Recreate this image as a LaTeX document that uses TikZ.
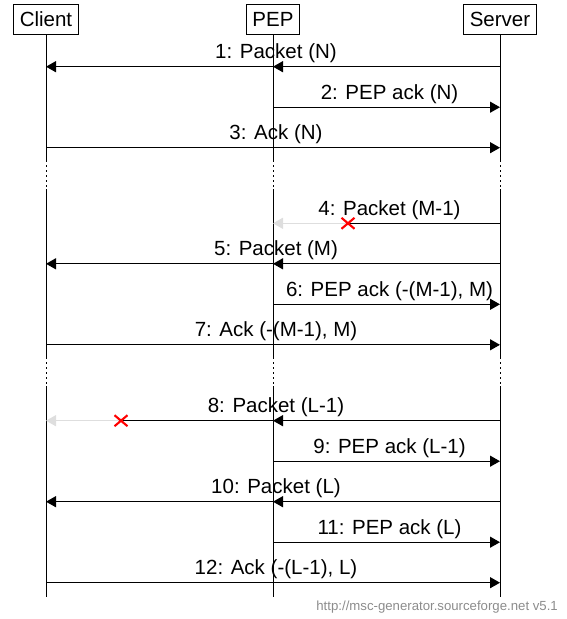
\documentclass[tikz,border=0pt]{standalone}
\usepackage{fontspec}
\setmainfont{Liberation Sans}
\usetikzlibrary{arrows.meta,calc}
\begin{document}
\begin{tikzpicture}[x=1pt,y=-1pt,
  entity/.style={draw, line width=0.8pt, minimum height=30pt, inner xsep=6pt, inner ysep=0pt, font=\fontsize{20.5}{25}\selectfont},
  life/.style={line width=0.9pt},
  gapline/.style={line width=0.9pt, dash pattern=on 2pt off 3pt},
  msg/.style={line width=1.3pt, -{Triangle[length=10pt,width=11pt]}},
  plainmsg/.style={line width=1.3pt},
  lostmsg/.style={line width=1.3pt, draw=black!13, -{Triangle[length=10pt,width=11pt,fill=black!13]}},
  lbl/.style={anchor=base, yshift=8pt, xshift=3pt, inner sep=0pt, font=\fontsize{20.5}{25}\selectfont},
  lossmark/.style={draw=red, line width=2.1pt},
  footer/.style={anchor=east, text=black!45, inner sep=0pt, font=\fontsize{13.2}{15}\selectfont}
]
\useasboundingbox (0,0) rectangle (566,619);

% entity heads
\node[entity] (cl)  at (46,19)  {Client};
\node[entity] (pep) at (273,19) {PEP};
\node[entity] (srv) at (500,19) {Server};

% message rows, lifeline breaks and end
\coordinate (r1)  at (0,66.7);
\coordinate (r2)  at (0,107.2);
\coordinate (r3)  at (0,147.7);
\coordinate (b1s) at (0,160);
\coordinate (b1e) at (0,189);
\coordinate (r4)  at (0,223.3);
\coordinate (r5)  at (0,263.8);
\coordinate (r6)  at (0,304.3);
\coordinate (r7)  at (0,344.8);
\coordinate (b2s) at (0,357);
\coordinate (b2e) at (0,386);
\coordinate (r8)  at (0,420.7);
\coordinate (r9)  at (0,461.2);
\coordinate (r10) at (0,501.7);
\coordinate (r11) at (0,542.2);
\coordinate (r12) at (0,582.7);
\coordinate (eol) at (0,597);

% lifelines with dotted breaks
\foreach \e in {cl,pep,srv} {
  \draw[life] (\e.south) -- (\e |- b1s);
  \draw[gapline] (\e |- b1s) -- (\e |- b1e);
  \draw[life] (\e |- b1e) -- (\e |- b2s);
  \draw[gapline] (\e |- b2s) -- (\e |- b2e);
  \draw[life] (\e |- b2e) -- (\e |- eol);
}

% 1
\draw[msg] (srv|-r1) -- node[lbl] (l1) {1: Packet (N)} (cl|-r1);
\draw[msg] (srv|-r1) -- (pep|-r1);
% 2
\draw[msg] (pep|-r2) -- node[lbl] (l2) {2: PEP ack (N)} (srv|-r2);
% 3
\draw[msg] (cl|-r3) -- node[lbl] (l3) {3: Ack (N)} (srv|-r3);

% 4 (lost before reaching PEP)
\coordinate (x4) at (348,223.3);
\draw[lostmsg] (x4) -- (pep|-r4);
\draw[plainmsg] (srv|-r4) -- (x4);
\path (srv|-r4) -- node[lbl] (l4) {4: Packet (M-1)} (pep|-r4);
\draw[lossmark] (x4) +(-6.5,-5.5) -- +(6.5,5.5) (x4) +(-6.5,5.5) -- +(6.5,-5.5);

% 5
\draw[msg] (srv|-r5) -- node[lbl] (l5) {5: Packet (M)} (cl|-r5);
\draw[msg] (srv|-r5) -- (pep|-r5);
% 6
\draw[msg] (pep|-r6) -- node[lbl] (l6) {6: PEP ack (-(M-1), M)} (srv|-r6);
% 7
\draw[msg] (cl|-r7) -- node[lbl] (l7) {7: Ack (-(M-1), M)} (srv|-r7);

% 8 (lost between PEP and Client)
\coordinate (x8) at (121,420.7);
\draw[lostmsg] (x8) -- (cl|-r8);
\draw[plainmsg] (pep|-r8) -- (x8);
\draw[msg] (srv|-r8) -- (pep|-r8);
\path (srv|-r8) -- node[lbl] (l8) {8: Packet (L-1)} (cl|-r8);
\draw[lossmark] (x8) +(-6.5,-5.5) -- +(6.5,5.5) (x8) +(-6.5,5.5) -- +(6.5,-5.5);

% 9
\draw[msg] (pep|-r9) -- node[lbl] (l9) {9: PEP ack (L-1)} (srv|-r9);
% 10
\draw[msg] (srv|-r10) -- node[lbl] (l10) {10: Packet (L)} (cl|-r10);
\draw[msg] (srv|-r10) -- (pep|-r10);
% 11
\draw[msg] (pep|-r11) -- node[lbl] (l11) {11: PEP ack (L)} (srv|-r11);
% 12
\draw[msg] (cl|-r12) -- node[lbl] (l12) {12: Ack (-(L-1), L)} (srv|-r12);

\node[footer] (ftr) at (558,607) {http://msc-generator.sourceforge.net v5.1};
\end{tikzpicture}
\end{document}
